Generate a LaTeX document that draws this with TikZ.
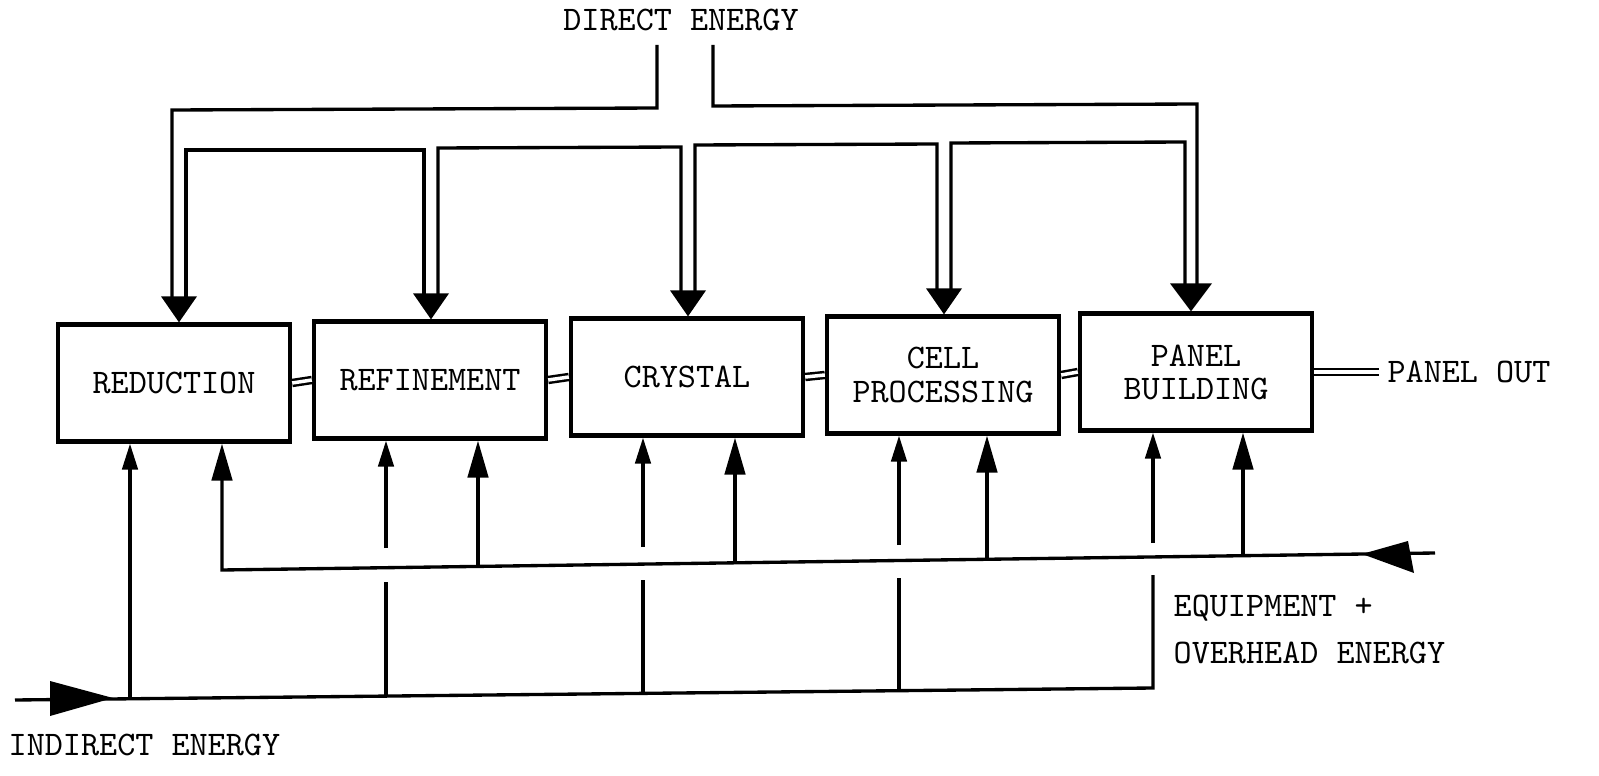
\documentclass[tikz,border=0pt]{standalone}
\usetikzlibrary{calc,arrows.meta}
\newcommand\diagfont{\ttfamily\fontsize{9.8}{9.4}\selectfont}
\begin{document}
\begin{tikzpicture}[x=0.01cm,y=-0.01cm,
  box/.style={draw,line width=1.2pt,minimum width=2.32cm,minimum height=1.17cm,inner sep=0pt,align=center,font=\diagfont},
  lbl/.style={inner sep=0pt,font=\diagfont},
  pipe/.style={line width=0.95pt},
  feed/.style={line width=0.95pt},
  upa/.style={feed,-{Triangle[length=7.4pt,width=4.4pt]}},
  upb/.style={feed,-{Triangle[length=10.5pt,width=5.8pt]}},
  link/.style={line width=0.7pt,double,double distance=1pt},
  head/.style={fill=black}]
\useasboundingbox (0,0) rectangle (1599,776);

% process boxes
\node[box] (red) at (174,383) {REDUCTION};
\node[box] (ref) at (430,380) {REFINEMENT};
\node[box] (cry) at (687,377) {CRYSTAL};
\node[box] (cel) at (943,375) {CELL\\PROCESSING};
\node[box] (pan) at (1196,372) {PANEL\\BUILDING};

% labels
\node[lbl] (de) at (681,20) {DIRECT ENERGY};
\node[lbl] (po) at (1469,372) {PANEL OUT};
\node[lbl,anchor=west] (eq) at (1173,608) {EQUIPMENT +};
\node[lbl,anchor=west] (ov) at (1173,653) {OVERHEAD ENERGY};
\node[lbl,anchor=west] (ie) at (8,745) {INDIRECT ENERGY};

% product flow links
\draw[link] (red.east) -- (ref.west);
\draw[link] (ref.east) -- (cry.west);
\draw[link] (cry.east) -- (cel.west);
\draw[link] (cel.east) -- (pan.west);
\draw[link] (pan.east) -- ([xshift=-2.3pt]po.west);

% direct energy pipes
\coordinate (dl) at (657,45);
\coordinate (dr) at (713,45);
\draw[pipe] (dl) -- (657,108) -- (172,110) -- (172,302);
\draw[pipe] (186,302) -- (186,150) -- (424,150) -- (424,298);
\draw[pipe] (438,298) -- (438,148) -- (681,147) -- (681,295);
\draw[pipe] (695,295) -- (695,145) -- (937,144) -- (937,292);
\draw[pipe] (951,292) -- (951,143) -- (1185,142) -- (1185,289);
\draw[pipe] (dr) -- (713,106) -- (1197,104) -- (1197,289);

\fill[head] ($(red.north)+(5,0)$) -- ++(-18,-26) -- ++(36,0) -- cycle;
\fill[head] ($(ref.north)+(1,0)$) -- ++(-18,-26) -- ++(36,0) -- cycle;
\fill[head] ($(cry.north)+(1,0)$) -- ++(-18,-26) -- ++(36,0) -- cycle;
\fill[head] ($(cel.north)+(1,0)$) -- ++(-18,-26) -- ++(36,0) -- cycle;
\fill[head] ($(pan.north)+(-5,0)$) -- ++(-21,-28) -- ++(42,0) -- cycle;

% indirect energy
\draw[feed] (15,700) -- (1153,688) -- (1153,575);
\fill[head] (113,698) -- (50,681) -- (50,716) -- cycle;
\draw[upa] (130,699) -- ($(red.south)+(-44,0)$);
\draw[upa] (386,548) -- ($(ref.south)+(-44,0)$);
\draw[feed] (386,582) -- (386,696);
\draw[upa] (643,547) -- ($(cry.south)+(-44,0)$);
\draw[feed] (643,580) -- (643,693);
\draw[upa] (899,545) -- ($(cel.south)+(-44,0)$);
\draw[feed] (899,578) -- (899,691);
\draw[upa] (1153,543) -- ($(pan.south)+(-43,0)$);

% equipment + overhead energy
\draw[upb] (1435,553) -- (222,570) -- ($(red.south)+(48,0)$);
\fill[head] (1362,554) -- (1408,541) -- (1414,573) -- cycle;
\draw[upb] (478,566) -- ($(ref.south)+(48,0)$);
\draw[upb] (735,563) -- ($(cry.south)+(48,0)$);
\draw[upb] (987,559) -- ($(cel.south)+(44,0)$);
\draw[upb] (1243,556) -- ($(pan.south)+(47,0)$);
\end{tikzpicture}
\end{document}
